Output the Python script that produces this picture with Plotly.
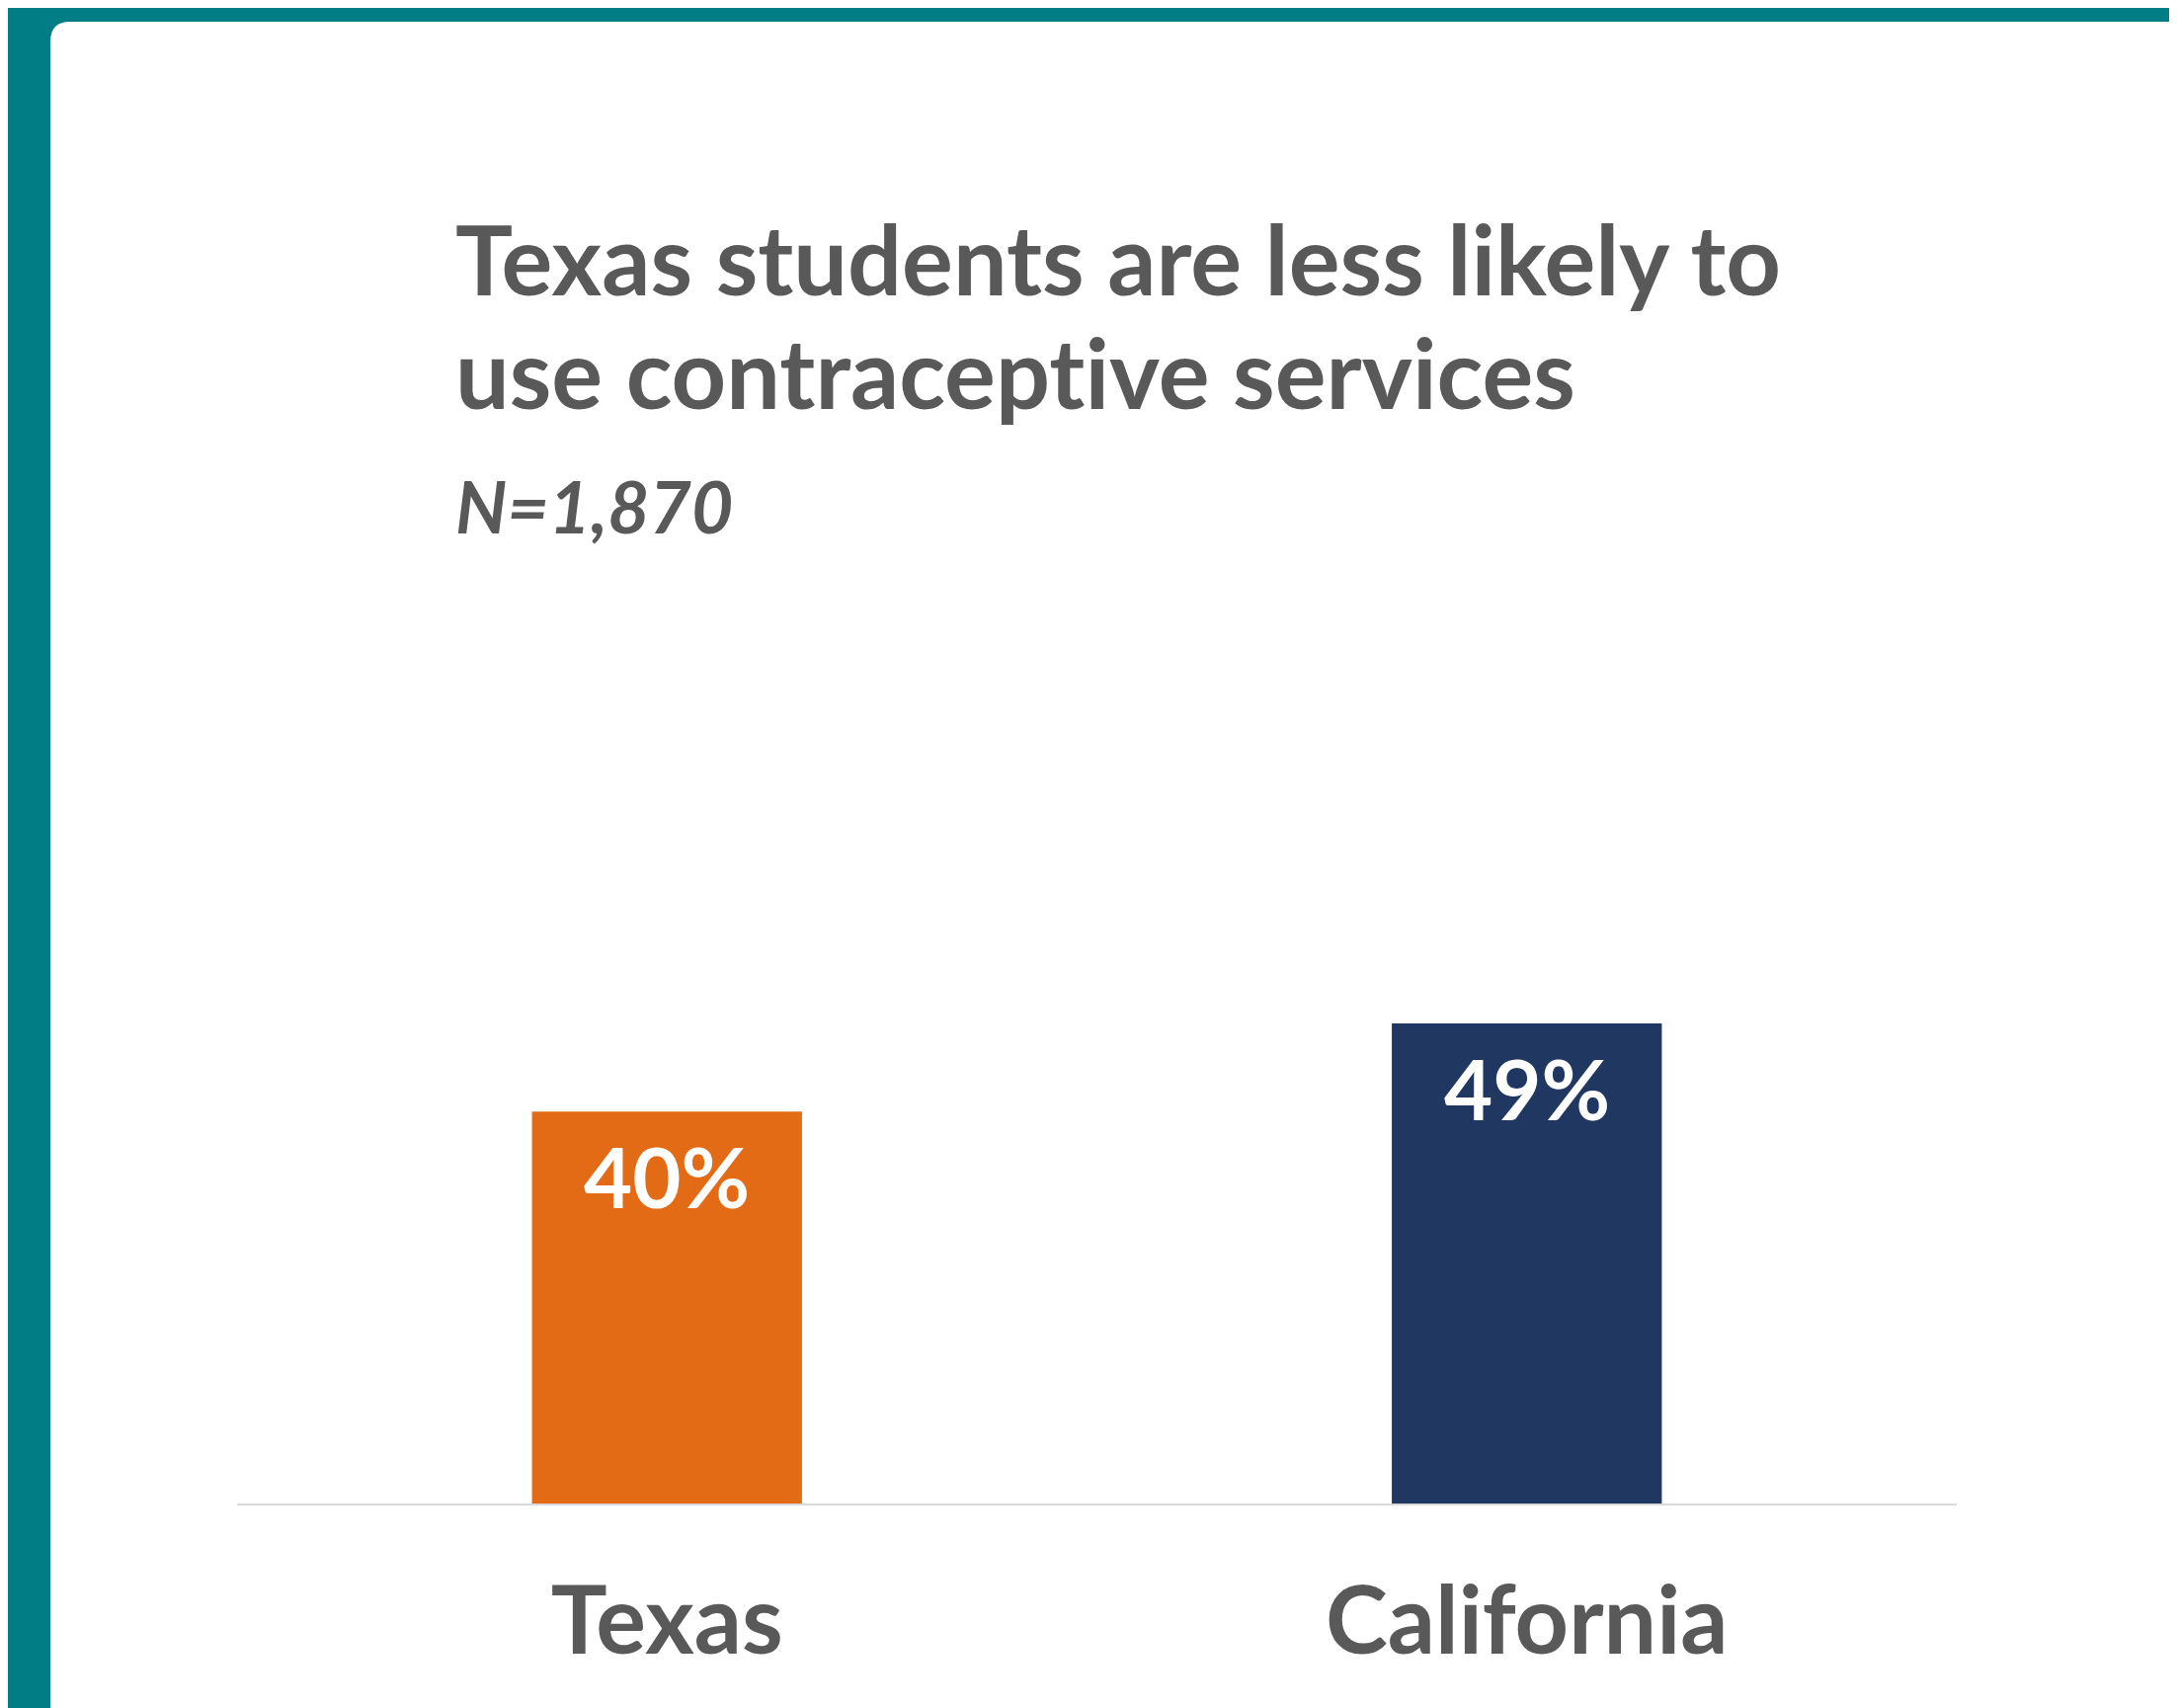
import plotly.graph_objects as go

# ---- data ----
categories = ["Texas", "California"]
values = [40, 49]
value_labels = ["40%", "49%"]
bar_colors = ["#E46B15", "#203762"]
title_lines = ["Texas students are less likely to", "use contracept\u200cive services"]
subtitle = "N=1,870"

# ---- layout geometry (pixels, page coordinates; page body has an 8px margin) ----
OFF = 8
W, H = 2204 - OFF, 1729 - OFF
L, R, T, B = 240 - OFF, 223, 927 - OFF, 207
PW, PH = W - L - R, H - T - B
GREY = "#595959"
TEAL = "#007D85"
FONT = "Lato"


def px(x):
    return (x - OFF - L) / PW


def py(y):
    return (H - B - (y - OFF)) / PH


fig = go.Figure()
fig.add_trace(go.Bar(
    x=categories, y=values, marker=dict(color=bar_colors, line=dict(width=0)),
    hoverinfo="skip", showlegend=False,
))

# white card on teal background with rounded top-left corner
r = 20
x0, y0, x1, y1 = 51, 22, 2240, 1760
path = (f"M {px(x0)} {py(y0 + r)} "
        f"Q {px(x0)} {py(y0)} {px(x0 + r)} {py(y0)} "
        f"L {px(x1)} {py(y0)} L {px(x1)} {py(y1)} L {px(x0)} {py(y1)} Z")
fig.add_shape(type="path", path=path, xref="paper", yref="paper",
              fillcolor="white", line=dict(width=0), layer="below")

annotations = []
# title lines
for text, yc in zip(title_lines, [261, 376]):
    annotations.append(dict(text=f"<b>{text}</b>", xref="paper", yref="paper",
                            x=px(459), y=py(yc), xanchor="left", yanchor="middle",
                            showarrow=False, font=dict(family=FONT, size=97, color=GREY)))
annotations.append(dict(text=f"<b><i>{subtitle}</i></b>", xref="paper", yref="paper",
                        x=px(459), y=py(512), xanchor="left", yanchor="middle",
                        showarrow=False, font=dict(family=FONT, size=73, color=GREY)))
# value labels inside bars
for c, v, lab in zip(categories, values, value_labels):
    annotations.append(dict(text=f"<b>{lab}</b>", x=c, y=v, xref="x", yref="y",
                            yanchor="middle", xanchor="center", yshift=-65,
                            showarrow=False, font=dict(family=FONT, size=85, color="white")))

fig.update_layout(
    width=W, height=H,
    margin=dict(l=L, r=R, t=T, b=B, autoexpand=False),
    paper_bgcolor=TEAL, plot_bgcolor="rgba(0,0,0,0)",
    bargap=0.686,
    annotations=annotations,
    xaxis=dict(range=[-0.5, 1.5], showline=True, linecolor="#D9D9D9", linewidth=2,
               showgrid=False, zeroline=False, ticks="outside", ticklen=36,
               tickcolor="rgba(0,0,0,0)",
               tickfont=dict(family=FONT, size=95, color=GREY),
               tickvals=categories, ticktext=[f"<b>{c}</b>" for c in categories]),
    yaxis=dict(range=[0, 60], visible=False, showgrid=False, zeroline=False),
)

fig.write_html("out.html")
